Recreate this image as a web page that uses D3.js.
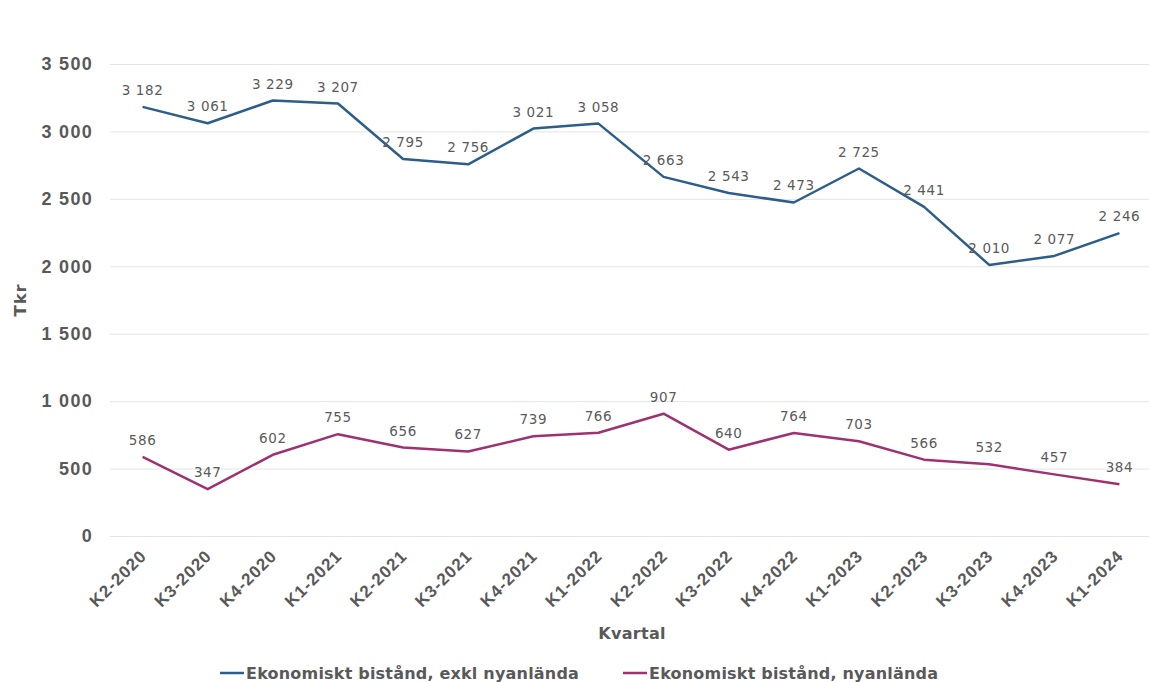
<!DOCTYPE html>
<html>
<head>
<meta charset="utf-8">
<script src="https://cdn.jsdelivr.net/npm/d3@7"></script>
<style>
  body { margin: 0; background: #fff; }
  svg { display: block; font-family: "DejaVu Sans", sans-serif; }
</style>
</head>
<body>
<svg id="chart"></svg>
<script>
const quarters = ["K2-2020", "K3-2020", "K4-2020", "K1-2021", "K2-2021", "K3-2021", "K4-2021", "K1-2022",
  "K2-2022", "K3-2022", "K4-2022", "K1-2023", "K2-2023", "K3-2023", "K4-2023", "K1-2024"];
const exklNyanlanda = [3182, 3061, 3229, 3207, 2795, 2756, 3021, 3058, 2663, 2543, 2473, 2725, 2441, 2010, 2077, 2246];
const nyanlanda = [586, 347, 602, 755, 656, 627, 739, 766, 907, 640, 764, 703, 566, 532, 457, 384];
const yTicks = [0, 500, 1000, 1500, 2000, 2500, 3000, 3500];
const seriesNames = ["Ekonomiskt bistånd, exkl nyanlända", "Ekonomiskt bistånd, nyanlända"];

const width = 1149;
const height = 682;
const margin = { top: 64, right: -3, bottom: 146, left: 110 };
const colors = ["#2d5d89", "#9e3270"];

const fmt = v => d3.format(",")(v).replace(/,/g, " ");

const svg = d3.select("#chart").attr("width", width).attr("height", height);

const x = d3.scaleBand()
  .domain(quarters)
  .range([margin.left, width - margin.right]);

const y = d3.scaleLinear()
  .domain([0, 3500])
  .range([height - margin.bottom, margin.top]);

// grid + y axis
svg.append("g")
  .attr("transform", `translate(${margin.left},0)`)
  .call(d3.axisLeft(y)
    .tickValues(yTicks)
    .tickSize(-(width - margin.left - margin.right))
    .tickPadding(17)
    .tickFormat(fmt))
  .call(g => g.select(".domain").remove())
  .call(g => g.selectAll(".tick line").style("stroke", "#e4e4e4").style("stroke-width", 1))
  .call(g => g.selectAll(".tick text")
    .style("font-size", "18px").style("font-weight", "bold").style("fill", "#595959")
    .style("letter-spacing", "1.3px"));

// x axis
svg.append("g")
  .attr("transform", `translate(0,${height - margin.bottom})`)
  .call(d3.axisBottom(x).tickSize(0).tickPadding(0))
  .call(g => g.select(".domain").remove())
  .call(g => g.selectAll(".tick text")
    .attr("text-anchor", "end")
    .attr("dy", 0)
    .attr("transform", "translate(5,21) rotate(-45)")
    .style("font-size", "17px").style("font-weight", "bold").style("fill", "#595959")
    .style("letter-spacing", "1px"));

// axis titles
svg.append("text")
  .attr("transform", `translate(26,${(margin.top + height - margin.bottom) / 2}) rotate(-90)`)
  .attr("text-anchor", "middle")
  .style("font-size", "16.5px").style("font-weight", "bold").style("fill", "#595959")
  .style("letter-spacing", "0.8px")
  .text("Tkr");

svg.append("text")
  .attr("x", 632).attr("y", 639)
  .attr("text-anchor", "middle")
  .style("font-size", "16px").style("font-weight", "bold").style("fill", "#595959")
  .style("letter-spacing", "0.3px")
  .text("Kvartal");

const cx = d => x(d) + x.bandwidth() / 2;
const line = d3.line().x((d, i) => cx(quarters[i])).y(d => y(d));

[exklNyanlanda, nyanlanda].forEach((vals, si) => {
  svg.append("path")
    .datum(vals)
    .attr("fill", "none")
    .attr("stroke", colors[si])
    .attr("stroke-width", 2.5)
    .attr("stroke-linejoin", "round")
    .attr("d", line);

  svg.append("g")
    .selectAll("text")
    .data(vals)
    .join("text")
    .attr("x", (d, i) => cx(quarters[i]))
    .attr("y", d => y(d) - 12)
    .attr("text-anchor", "middle")
    .style("font-size", "13.5px")
    .style("fill", "#5a5a5a")
    .style("letter-spacing", "0.6px")
    .text(fmt);
});

// legend
const legendX = [220, 623];
seriesNames.forEach((name, i) => {
  const g = svg.append("g").attr("transform", `translate(${legendX[i]},673)`);
  g.append("line")
    .attr("x1", 0).attr("x2", 24)
    .attr("stroke", colors[i]).attr("stroke-width", 2.5);
  g.append("text")
    .attr("x", 26).attr("y", 5.5)
    .style("font-size", "16px").style("font-weight", "bold").style("fill", "#595959")
    .style("letter-spacing", "0.2px")
    .text(name);
});
</script>
</body>
</html>
